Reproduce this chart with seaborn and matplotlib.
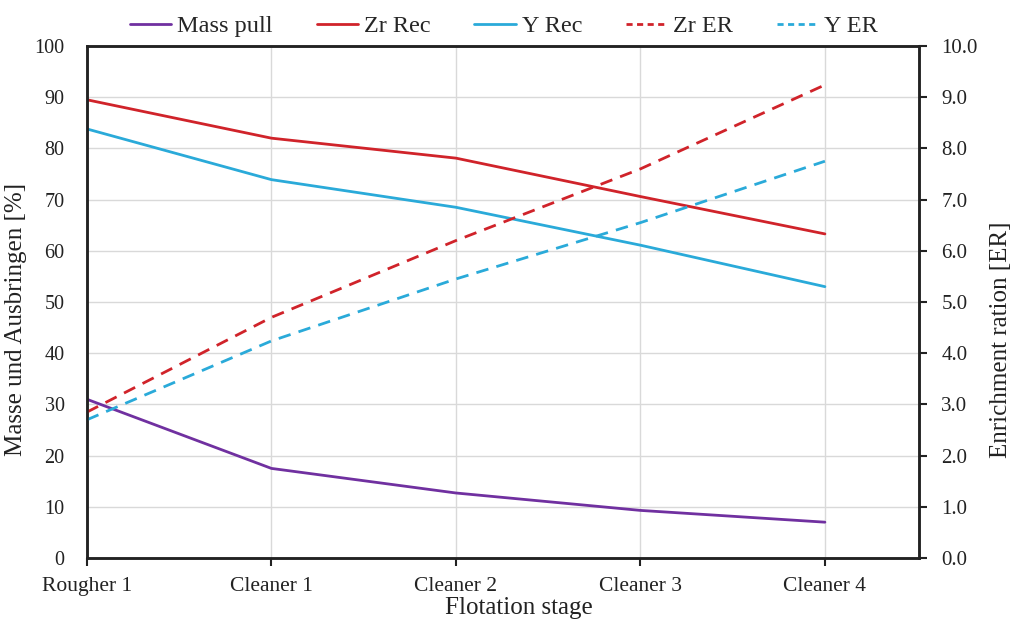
import numpy as np
import pandas as pd
import matplotlib
matplotlib.use("Agg")
import matplotlib.pyplot as plt
from matplotlib.lines import Line2D
import seaborn as sns

# Flotation stages
stages = ["Rougher 1", "Cleaner 1", "Cleaner 2", "Cleaner 3", "Cleaner 4"]

# Left axis: mass pull and recoveries [%]
mass_pull = [31.0, 17.5, 12.7, 9.3, 7.0]
zr_rec = [89.5, 82.0, 78.1, 70.6, 63.3]
y_rec = [83.8, 73.9, 68.5, 61.1, 53.0]

# Right axis: enrichment ratios [ER]
zr_er = [2.85, 4.7, 6.2, 7.6, 9.24]
y_er = [2.7, 4.24, 5.45, 6.55, 7.75]

sns.set_theme(style="white")
plt.rcParams["font.family"] = ["Liberation Serif", "DejaVu Serif"]

PURPLE = "#7030A0"
RED = "#D0232A"
CYAN = "#2AAAD9"
LW = 2.0
DASH = (4.5, 3.0)
TXT = "#222222"

pos = np.arange(len(stages))
left_df = pd.DataFrame({
    "pos": np.tile(pos, 3),
    "value": mass_pull + zr_rec + y_rec,
    "series": ["Mass pull"] * 5 + ["Zr Rec"] * 5 + ["Y Rec"] * 5,
})
right_df = pd.DataFrame({
    "pos": np.tile(pos, 2),
    "value": zr_er + y_er,
    "series": ["Zr ER"] * 5 + ["Y ER"] * 5,
})

fig = plt.figure(figsize=(10.11, 6.26), dpi=100)
ax = fig.add_axes([0.086, 0.1086, 0.823, 0.8179])
ax2 = ax.twinx()

sns.lineplot(data=left_df, x="pos", y="value", hue="series",
             palette={"Mass pull": PURPLE, "Zr Rec": RED, "Y Rec": CYAN},
             linewidth=LW, sort=False, legend=False, ax=ax)
sns.lineplot(data=right_df, x="pos", y="value", hue="series",
             palette={"Zr ER": RED, "Y ER": CYAN},
             linewidth=LW, sort=False, legend=False, ax=ax2)
for ln in ax2.get_lines():
    ln.set_dashes(DASH)

ax.set_xlim(0, 4.51)
ax.set_ylim(0, 100)
ax2.set_ylim(0, 10)

ax.set_yticks(np.arange(0, 101, 10))
ax.set_yticklabels([str(v) for v in range(0, 101, 10)], fontsize=14.5, color=TXT)
ax2.set_yticks(np.arange(0, 10.1, 1.0))
ax2.set_yticklabels([f"{v:.1f}" for v in np.arange(0, 10.1, 1.0)], fontsize=15, color=TXT)
ax.set_xticks(pos)
ax.set_xticklabels(stages, fontsize=15.5, color=TXT)

# grid: horizontal every 10, vertical at stages
ax.grid(False)
ax2.grid(False)
for v in range(10, 101, 10):
    ax.axhline(v, color="#d9d9d9", lw=1.0, zorder=0)
for p in pos[1:]:
    ax.axvline(p, color="#d9d9d9", lw=1.0, zorder=0)

ax.tick_params(axis="x", direction="out", length=6, width=1.5, color=TXT, pad=8, bottom=True)
ax.tick_params(axis="y", length=0, pad=16, left=True)
ax2.tick_params(axis="y", direction="out", length=6, width=1.5, color=TXT, pad=10, right=True)

for a in (ax, ax2):
    for side in ("left", "bottom", "right", "top"):
        a.spines[side].set_visible(True)
        a.spines[side].set_color(TXT)
        a.spines[side].set_linewidth(1.8)

ax.set_xlabel("Flotation stage", fontsize=18, color=TXT)
ax.xaxis.set_label_coords(0.519, -0.077)
ax.set_ylabel("Masse und Ausbringen [%]", fontsize=18, color=TXT)
ax.yaxis.set_label_coords(-0.072, 0.465)
ax2.set_ylabel("Enrichment ration [ER]", fontsize=18, color=TXT)
ax2.yaxis.set_label_coords(1.085, 0.426)

handles = [
    Line2D([], [], color=PURPLE, lw=LW),
    Line2D([], [], color=RED, lw=LW),
    Line2D([], [], color=CYAN, lw=LW),
    Line2D([], [], color=RED, lw=LW, dashes=(2.2, 1.6)),
    Line2D([], [], color=CYAN, lw=LW, dashes=(2.2, 1.6)),
]
fig.legend(handles, ["Mass pull", "Zr Rec", "Y Rec", "Zr ER", "Y ER"],
           loc="center", bbox_to_anchor=(0.4985, 0.958), ncol=5, frameon=False,
           fontsize=17.5, handlelength=1.7, handletextpad=0.25, columnspacing=1.8)

fig.savefig("out.png", dpi=100)
